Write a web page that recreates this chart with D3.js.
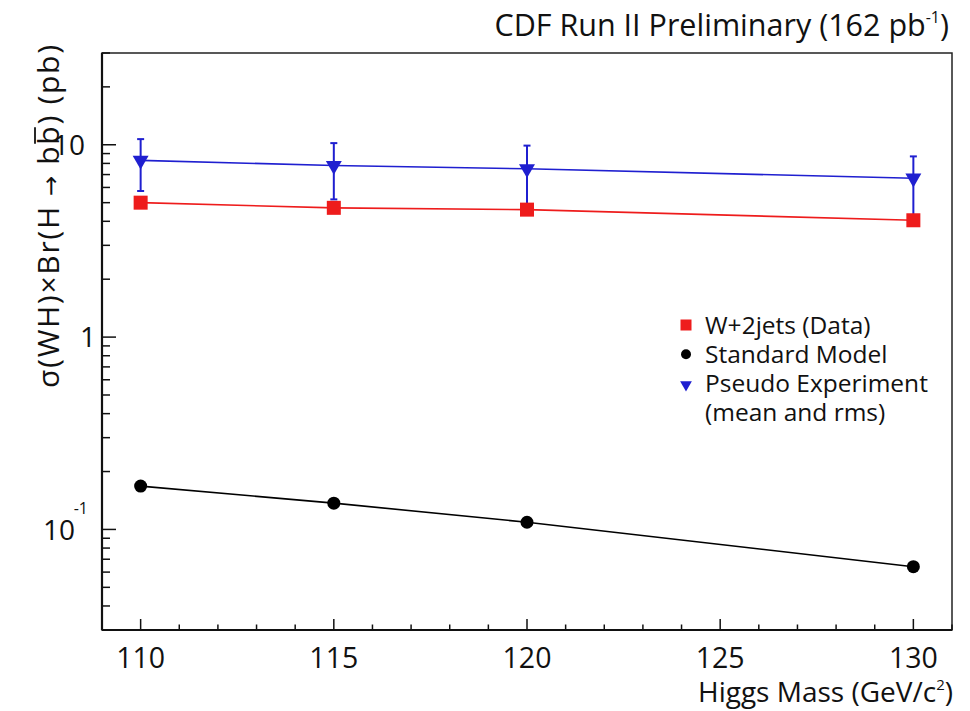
<!DOCTYPE html>
<html>
<head>
<meta charset="utf-8">
<script src="https://cdn.jsdelivr.net/npm/d3@7"></script>
<style>
  html, body { margin: 0; padding: 0; background: #fff; }
  svg { display: block; }
  text { font-family: "Open Sans", "Noto Sans", sans-serif; fill: #111; }
</style>
</head>
<body>
<svg id="chart" width="970" height="711"></svg>
<script>
// ---- data ----
const masses = [110, 115, 120, 130];
const dataW2jets = [5.0, 4.7, 4.6, 4.05];
const standardModel = [0.168, 0.137, 0.109, 0.064];
const pseudoMean = [8.3, 7.8, 7.5, 6.7];
const pseudoLow = [5.75, 5.2, 4.6, 4.3];
const pseudoHigh = [10.7, 10.2, 9.9, 8.7];
const xTickLabels = [110, 115, 120, 125, 130];
const yTickValues = [0.1, 1, 10];
const legendLabels = ["W+2jets (Data)", "Standard Model", "Pseudo Experiment", "(mean and rms)"];

const svg = d3.select("#chart");
const m = { left: 102, right: 952, top: 53, bottom: 630 };

const x = d3.scaleLinear().domain([109, 131]).range([m.left, m.right]);
const y = d3.scaleLog().domain([0.03, 30]).range([m.bottom, m.top]);

const RED = "#ee1c1c", BLUE = "#1f1fd0", BLACK = "#000";

// ---- frame ----
svg.append("rect").attr("x", m.left).attr("y", m.top)
  .attr("width", m.right - m.left).attr("height", m.bottom - m.top)
  .attr("fill", "none").attr("stroke", "#222").attr("stroke-width", 1.5);

// ---- x axis ticks (inside) ----
const xMinor = d3.range(109, 132, 1);
const gx = svg.append("g");
gx.selectAll("line.minor").data(xMinor).join("line")
  .attr("x1", d => x(d)).attr("x2", d => x(d))
  .attr("y1", m.bottom).attr("y2", d => m.bottom - (d % 5 === 0 ? 11 : 5.5))
  .attr("stroke", "#111").attr("stroke-width", 1.5);
gx.append("line").attr("x1", m.left).attr("x2", m.right)
  .attr("y1", m.bottom).attr("y2", m.bottom).attr("stroke", "#111").attr("stroke-width", 2.2);
gx.selectAll("text").data(xTickLabels).join("text")
  .attr("x", d => x(d)).attr("y", m.bottom + 38)
  .attr("text-anchor", "middle").attr("font-size", 28.5)
  .text(d => d);

// ---- y axis ticks (inside, log) ----
const yMinor = [];
[0.01, 0.1, 1, 10].forEach(dec => { for (let k = 1; k <= 9; k++) { const v = dec * k; if (v >= 0.03 && v <= 30) yMinor.push(v); } });
const gy = svg.append("g");
gy.selectAll("line").data(yMinor).join("line")
  .attr("x1", m.left).attr("x2", d => m.left + (yTickValues.some(t => Math.abs(t - d) < 1e-9) ? 14 : 8))
  .attr("y1", d => y(d)).attr("y2", d => y(d))
  .attr("stroke", "#111").attr("stroke-width", 1.5);
gy.append("line").attr("x1", m.left).attr("x2", m.left)
  .attr("y1", m.top).attr("y2", m.bottom).attr("stroke", "#111").attr("stroke-width", 2.2);

// y tick labels
const yl = gy.append("g");
yl.append("text").attr("x", m.left - 17).attr("y", y(10) + 10).attr("text-anchor", "end")
  .attr("font-size", 28).text("10");
yl.append("text").attr("x", m.left - 6).attr("y", y(1) + 10).attr("text-anchor", "end")
  .attr("font-size", 28).text("1");
yl.append("text").attr("x", m.left - 27).attr("y", y(0.1) + 11).attr("text-anchor", "end")
  .attr("font-size", 28).text("10");
yl.append("text").attr("x", m.left - 14).attr("y", y(0.1) - 15).attr("text-anchor", "end")
  .attr("font-size", 16).text("-1");

// ---- series ----
const pts = masses.map((mm, i) => ({ m: mm, w: dataW2jets[i], sm: standardModel[i], pm: pseudoMean[i], lo: pseudoLow[i], hi: pseudoHigh[i] }));
const line = key => d3.line().x(d => x(d.m)).y(d => y(d[key]));

// Standard model
svg.append("path").datum(pts).attr("d", line("sm")).attr("fill", "none").attr("stroke", BLACK).attr("stroke-width", 1.6);
svg.selectAll("circle.sm").data(pts).join("circle").attr("class", "sm")
  .attr("cx", d => x(d.m)).attr("cy", d => y(d.sm)).attr("r", 6.5).attr("fill", BLACK);

// W+2jets data
svg.append("path").datum(pts).attr("d", line("w")).attr("fill", "none").attr("stroke", RED).attr("stroke-width", 1.6);

// Pseudo experiment line and error bars
svg.append("path").datum(pts).attr("d", line("pm")).attr("fill", "none").attr("stroke", BLUE).attr("stroke-width", 1.6);
const eb = svg.append("g").attr("stroke", BLUE).attr("stroke-width", 2);
eb.selectAll("line.v").data(pts).join("line")
  .attr("x1", d => x(d.m)).attr("x2", d => x(d.m)).attr("y1", d => y(d.lo)).attr("y2", d => y(d.hi));
eb.selectAll("line.t").data(pts).join("line")
  .attr("x1", d => x(d.m) - 3.5).attr("x2", d => x(d.m) + 3.5).attr("y1", d => y(d.hi)).attr("y2", d => y(d.hi));
eb.selectAll("line.b").data(pts).join("line")
  .attr("x1", d => x(d.m) - 3.5).attr("x2", d => x(d.m) + 3.5).attr("y1", d => y(d.lo)).attr("y2", d => y(d.lo));

svg.selectAll("rect.w").data(pts).join("rect").attr("class", "w")
  .attr("x", d => x(d.m) - 7).attr("y", d => y(d.w) - 7).attr("width", 14).attr("height", 14).attr("fill", RED);

const tri = d3.symbol().type(d3.symbolTriangle).size(110);
svg.selectAll("path.pm").data(pts).join("path").attr("class", "pm")
  .attr("d", tri).attr("transform", d => `translate(${x(d.m)},${y(d.pm)}) rotate(180)`).attr("fill", BLUE);

// ---- legend ----
const lg = svg.append("g");
const lx = 686, ly0 = 325, ldy = 29.3;
lg.append("rect").attr("x", lx - 5.5).attr("y", ly0 - 5.5).attr("width", 11).attr("height", 11).attr("fill", RED);
lg.append("circle").attr("cx", lx).attr("cy", ly0 + ldy).attr("r", 5).attr("fill", BLACK);
lg.append("path").attr("d", d3.symbol().type(d3.symbolTriangle).size(60))
  .attr("transform", `translate(${lx},${ly0 + 2 * ldy + 1}) rotate(180)`).attr("fill", BLUE);
lg.selectAll("text").data(legendLabels).join("text")
  .attr("x", 705).attr("y", (d, i) => ly0 + i * ldy + 8.5)
  .attr("font-size", 24.5).text(d => d);

// ---- titles ----
const title = svg.append("text").attr("x", 949).attr("y", 36).attr("text-anchor", "end").attr("font-size", 30.5);
title.append("tspan").text("CDF Run II Preliminary (162 pb");
title.append("tspan").attr("font-size", 16).attr("dy", -13).text("-1");
title.append("tspan").attr("dy", 13).text(")");

const xt = svg.append("text").attr("x", 953).attr("y", 702).attr("text-anchor", "end").attr("font-size", 28);
xt.append("tspan").text("Higgs Mass (GeV/c");
xt.append("tspan").attr("font-size", 15).attr("dy", -12).text("2");
xt.append("tspan").attr("dy", 12).text(")");

const ytg = svg.append("g").attr("transform", "translate(59,45) rotate(-90)");
const yt = ytg.append("text").attr("text-anchor", "end")
  .attr("font-size", 30).attr("textLength", 343).attr("lengthAdjust", "spacing");
yt.append("tspan").text("σ(WH)×Br(H");
yt.append("tspan").attr("font-family", "DejaVu Sans").attr("font-size", 24).text(" → ");
yt.append("tspan").text("b");
yt.append("tspan").text("b");
yt.append("tspan").text(") (pb)");
// overline above the second b (anti-b)
try {
  const ext = yt.node().getExtentOfChar(14);
  ytg.append("line").attr("x1", ext.x + 1).attr("x2", ext.x + ext.width - 1)
    .attr("y1", -24).attr("y2", -24).attr("stroke", "#111").attr("stroke-width", 1.8);
} catch (e) {}
</script>
</body>
</html>
